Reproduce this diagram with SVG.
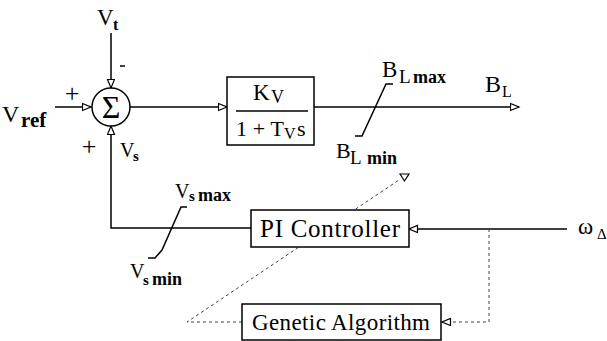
<svg xmlns="http://www.w3.org/2000/svg" width="607" height="341" viewBox="0 0 607 341">
<style>
.ln{stroke:#000;stroke-width:1.5;fill:none}
.dl{stroke:#444;stroke-width:1;fill:none;stroke-dasharray:3,3}
.bx{fill:#fff;stroke:#000;stroke-width:1.5}
text{font-family:"Liberation Serif","Times New Roman",serif;fill:#000}
.b{font-weight:bold}
</style>
<defs>
<marker id="ah" markerUnits="userSpaceOnUse" markerWidth="11" markerHeight="9" refX="9.5" refY="4" orient="auto">
<path d="M1,0.5 L9.5,4 L1,7.5 Z" fill="#fff" stroke="#000" stroke-width="1.2"/>
</marker>
</defs>
<g id="connectors">
<line class="ln" x1="55" y1="107" x2="91" y2="107" marker-end="url(#ah)"/>
<line class="ln" x1="111" y1="33" x2="111" y2="88" marker-end="url(#ah)"/>
<polyline class="ln" points="251,228 111,228 111,126" marker-end="url(#ah)"/>
<line class="ln" x1="130" y1="107" x2="227" y2="107" marker-end="url(#ah)"/>
<line class="ln" x1="314" y1="107" x2="519" y2="107" marker-end="url(#ah)"/>
<line class="ln" x1="567" y1="229" x2="409" y2="229" marker-end="url(#ah)"/>
<polyline class="dl" points="489,229 489,322 442,322" marker-end="url(#ah)"/>
<polyline class="dl" points="242,322 187,322 399,180"/>
<polygon points="400,174 409,174 404.5,181" fill="#fff" stroke="#000" stroke-width="1.2"/>
<path class="ln" d="M393,84 L386,84 L362,136 L355,136" stroke-width="1.2"/>
<path class="ln" d="M187,207 L181,207 L162,250 L155,258 L148,258" stroke-width="1.2"/>
</g>
<g id="sum">
<circle cx="111" cy="107" r="19" class="bx"/>
<text x="111" y="118" font-size="32" text-anchor="middle">Σ</text>
</g>
<g id="tf">
<rect x="227" y="77" width="87" height="68" class="bx"/>
<text x="253" y="100" font-size="23">K</text>
<text x="271" y="103" font-size="18">V</text>
<line x1="236" y1="111" x2="308" y2="111" stroke="#000" stroke-width="1.5"/>
<text x="236" y="136" font-size="22" textLength="48">1 + T</text>
<text x="284" y="139" font-size="16">V</text>
<text x="297" y="136" font-size="22">s</text>
</g>
<g id="pi">
<rect x="251" y="210" width="158" height="37" class="bx"/>
<text x="330" y="237" font-size="25" text-anchor="middle" textLength="140">PI Controller</text>
</g>
<g id="ga">
<rect x="242" y="304" width="199" height="36" class="bx"/>
<text x="341" y="330" font-size="23" text-anchor="middle" textLength="178">Genetic Algorithm</text>
</g>
<g id="labels">
<text x="97" y="25" font-size="23">V</text>
<text x="113" y="30" font-size="16" class="b">t</text>
<line x1="120" y1="66" x2="125" y2="66" stroke="#000" stroke-width="1.5"/>
<text x="2" y="122" font-size="24">V</text>
<text x="21" y="127" font-size="21" class="b">ref</text>
<text x="72" y="102" font-size="26" text-anchor="middle">+</text>
<text x="89" y="155" font-size="26" text-anchor="middle">+</text>
<text x="120" y="157" font-size="20">V</text>
<text x="133" y="161" font-size="15" class="b">s</text>
<text x="485" y="92" font-size="24">B</text>
<text x="502" y="97" font-size="16">L</text>
<text x="382" y="77" font-size="23">B</text>
<text x="399" y="83" font-size="19">L</text>
<text x="413" y="83" font-size="18" class="b">max</text>
<text x="336" y="158" font-size="22">B</text>
<text x="350" y="164" font-size="19">L</text>
<text x="367" y="164" font-size="18" class="b">min</text>
<text x="175" y="198" font-size="20">V</text>
<text x="189" y="201" font-size="15" class="b">s</text>
<text x="198" y="201" font-size="18" class="b">max</text>
<text x="130" y="278" font-size="20">V</text>
<text x="143" y="285" font-size="15" class="b">s</text>
<text x="152" y="285" font-size="18" class="b">min</text>
<text x="578" y="234" font-size="23">ω</text>
<text x="597" y="239" font-size="15">Δ</text>
</g>
</svg>
